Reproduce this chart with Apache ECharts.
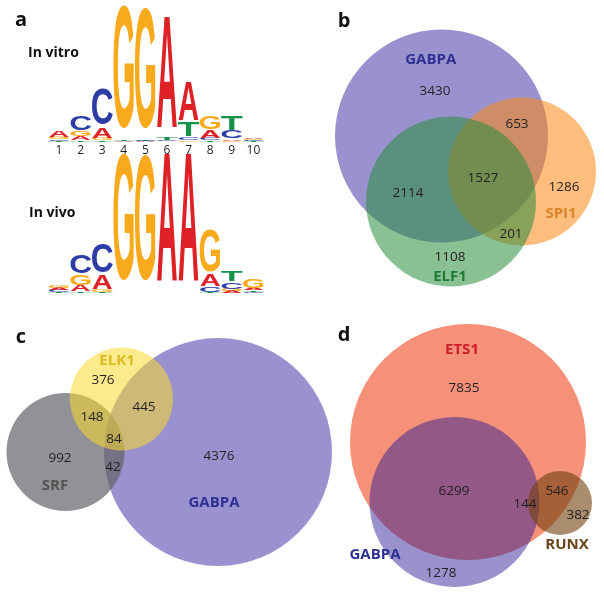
<!DOCTYPE html>
<html><head><meta charset="utf-8">
<script src="https://cdn.jsdelivr.net/npm/echarts@6/dist/echarts.min.js"></script>
<style>html,body{margin:0;padding:0;background:#fff}#c{width:604px;height:595px}</style>
</head><body><div id="c"></div><script>
// ---------- DATA ----------
const positions = ['1','2','3','4','5','6','7','8','9','10'];
// information content (bits) per letter and position
const vitroA = [0.09,0.06,0.164,0.008,0.008,1.73,0.61,0.12,0.022,0.022];
const vitroC = [0.022,0.224,0.567,0.008,0.015,0.015,0.037,0.03,0.12,0.015];
const vitroG = [0.03,0.075,0.03,1.94,1.9,0.008,0.022,0.21,0.015,0.015];
const vitroT = [0.015,0.022,0.015,0.008,0.008,0.03,0.21,0.015,0.224,0.008];
const vivoA = [0.037,0.09,0.224,0.005,0.005,1.99,1.99,0.18,0.03,0.03];
const vivoC = [0.03,0.284,0.45,0.005,0.005,0.005,0.005,0.075,0.104,0.022];
const vivoG = [0.045,0.164,0.03,1.985,1.97,0.005,0.005,0.67,0.03,0.134];
const vivoT = [0.015,0.022,0.015,0.005,0.005,0.005,0.005,0.015,0.164,0.022];

// Venn panels
const setsB = ['GABPA','SPI1','ELF1'];
const countsB = [3430, 653, 1527, 2114, 1286, 201, 1108];
const setsC = ['GABPA','SRF','ELK1'];
const countsC = [376, 445, 148, 84, 992, 42, 4376];
const setsD = ['ETS1','GABPA','RUNX'];
const countsD = [7835, 6299, 144, 546, 382, 1278];
const panelLetters = ['a','b','c','d'];
const logoTitles = ['In vitro','In vivo'];

// ---------- LAYOUT (positions / sizes) ----------
const circlesB = [[441.5,136,106.5],[522,171.5,74],[451,201.5,85]];
const circlesC = [[218,452,114],[65.5,452,59],[121.5,399,51.5]];
const circlesD = [[468,442,118],[454.5,502,85],[560,503,32]];
const setLabelPosB = [[430.7,60],[561,214],[450,277]];
const countPosB = [[435,91],[517,124],[483,178],[408,193],[564,187],[511,234],[450,257]];
const setLabelPosC = [[214,503],[55,486],[117,361]];
const countPosC = [[103,380],[144,407],[92,417],[114,439],[60,458],[113,467],[219,456]];
const setLabelPosD = [[462,350],[375,555],[567,545]];
const countPosD = [[464,388],[454,491],[525,504],[557,491],[578,515],[441,573]];
const panelLetterPos = [[21,20],[344,21],[21,337],[344,335]];
const logoTitlePos = [[28,53],[29,213]];

// ---------- STYLES ----------
const fillsB = ['rgba(100,90,180,0.66)','rgba(251,137,19,0.55)','rgba(40,140,60,0.55)'];
const fillsC = ['rgba(100,90,180,0.66)','rgba(100,100,105,0.7)','rgba(251,217,46,0.55)'];
const fillsD = ['rgba(239,99,62,0.7)','rgba(42,28,151,0.48)','rgba(113,63,13,0.6)'];
const labelColB = ['#2e3192','#dc842a','#1e7b34'];
const labelColC = ['#2e3192','#555555','#d9bb22'];
const labelColD = ['#cc1f2b','#2e3192','#6a4419'];
const letterColors = {A:'#dd2126', C:'#2e3ca6', G:'#f8a91c', T:'#16924a'};
const inkW = {A:0.72, C:0.66, G:0.70, T:0.58};
const capH = {A:0.729, C:0.75, G:0.75, T:0.729};
const letterNames = ['A','C','G','T'];

function logoData(A,C,G,T){ return positions.map((p,i)=>[i,A[i],C[i],G[i],T[i]]); }

function logoRender(params, api){
  const col = api.value(0);
  const items = letterNames.map((L,k)=>({L, h: api.value(k+1)})).sort((a,b)=>a.h-b.h);
  const bw = api.size([1,0])[0];
  const w = bw*0.97;
  const x = api.coord([col,0])[0];
  let cum = 0; const children = [];
  for (const it of items){
    const yb = api.coord([col,cum])[1];
    const yt = api.coord([col,cum+it.h])[1];
    cum += it.h;
    const hpx = yb-yt;
    if (hpx <= 0.05) continue;
    const F = 100;
    const sx = w/(inkW[it.L]*F);
    const sy = hpx/(capH[it.L]*F);
    children.push({type:'text', x:x, y:(yb+yt)/2 + 1.8*sy, scaleX:sx, scaleY:sy, silent:true,
      style:{text:it.L, font:'bold 100px "Liberation Sans"', fill:letterColors[it.L],
        align:'center', verticalAlign:'middle', textAlign:'center', textVerticalAlign:'middle'}});
  }
  return {type:'group', children};
}

function circleSeries(circles, fills){
  return {type:'custom', xAxisIndex:0, yAxisIndex:0, silent:true,
    data: circles.map(c=>c.slice()),
    renderItem: function(params, api){
      const c = api.coord([api.value(0), api.value(1)]);
      const r = api.size([api.value(2),0])[0];
      return {type:'circle', shape:{cx:c[0], cy:c[1], r:r}, style:{fill: fills[params.dataIndex]}};
    }};
}

function textSeries(texts, pos, colors, font){
  return {type:'custom', xAxisIndex:0, yAxisIndex:0, silent:true, z:5,
    data: pos.map((p,i)=>[p[0],p[1],i]),
    renderItem: function(params, api){
      const i = api.value(2);
      const c = api.coord([api.value(0), api.value(1)]);
      const col = Array.isArray(colors) ? colors[i] : colors;
      return {type:'text', x:c[0], y:c[1],
        style:{text:String(texts[i]), font:font, fill:col, align:'center', verticalAlign:'middle',
          textAlign:'center', textVerticalAlign:'middle'}};
    }};
}

const numFont = '13.5px "Open Sans"';
const setFont = 'bold 15px "Open Sans"';

const option = {
  animation:false,
  backgroundColor:'#ffffff',
  grid:[
    {left:0, top:0, width:604, height:595},
    {left:48.2, top:7.7, width:216, height:134},
    {left:48.2, top:159.5, width:216, height:134}
  ],
  xAxis:[
    {type:'value', gridIndex:0, min:0, max:604, show:false},
    {type:'category', gridIndex:1, data:positions, axisLine:{show:false}, axisTick:{show:false},
      splitLine:{show:false}, axisLabel:{show:true, margin:3, fontSize:12, color:'#231f20', fontFamily:'Open Sans', interval:0}},
    {type:'category', gridIndex:2, data:positions, show:false}
  ],
  yAxis:[
    {type:'value', gridIndex:0, min:0, max:595, inverse:true, show:false},
    {type:'value', gridIndex:1, min:0, max:2, show:false},
    {type:'value', gridIndex:2, min:0, max:2, show:false}
  ],
  series:[
    {type:'custom', xAxisIndex:1, yAxisIndex:1, silent:true, data:logoData(vitroA,vitroC,vitroG,vitroT), renderItem:logoRender},
    {type:'custom', xAxisIndex:2, yAxisIndex:2, silent:true, data:logoData(vivoA,vivoC,vivoG,vivoT), renderItem:logoRender},
    circleSeries(circlesB, fillsB),
    circleSeries(circlesC, fillsC),
    circleSeries(circlesD, fillsD),
    textSeries(setsB, setLabelPosB, labelColB, setFont),
    textSeries(countsB, countPosB, '#231f20', numFont),
    textSeries(setsC, setLabelPosC, labelColC, setFont),
    textSeries(countsC, countPosC, '#231f20', numFont),
    textSeries(setsD, setLabelPosD, labelColD, setFont),
    textSeries(countsD, countPosD, '#231f20', numFont),
    textSeries(panelLetters, panelLetterPos, '#111111', 'bold 20px "Open Sans"'),
    {type:'custom', xAxisIndex:0, yAxisIndex:0, silent:true, z:5,
      data: logoTitlePos.map((p,i)=>[p[0],p[1],i]),
      renderItem: function(params, api){
        const i = api.value(2);
        const c = api.coord([api.value(0), api.value(1)]);
        return {type:'text', x:c[0], y:c[1], style:{text:logoTitles[i], font:'bold 14px "Open Sans"', fill:'#111111',
          align:'left', verticalAlign:'middle', textAlign:'left', textVerticalAlign:'middle'}};
      }}
  ]
};
const chart = echarts.init(document.getElementById('c'), null, {renderer:'canvas'});
chart.setOption(option);
</script></body></html>
